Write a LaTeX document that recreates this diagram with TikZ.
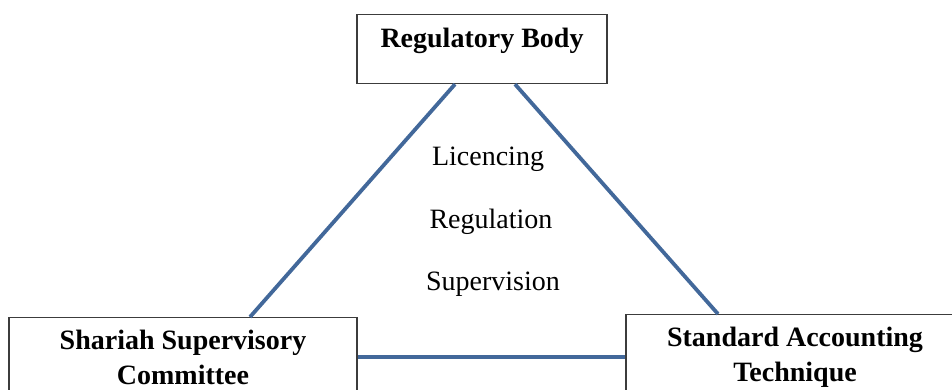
\documentclass[tikz,border=0pt]{standalone}
\usepackage{fontspec}
\setmainfont{Liberation Serif}
\usetikzlibrary{calc}
\definecolor{linkblue}{RGB}{66,104,154}
\definecolor{boxgray}{RGB}{60,60,60}
\tikzset{
	entity/.style={draw=boxgray, line width=1.2pt, anchor=north, align=center,
		inner xsep=0pt, inner ysep=12pt, font=\fontsize{28}{35}\selectfont\bfseries},
	role/.style={anchor=base, font=\fontsize{28}{34}\selectfont},
	link/.style={linkblue, line width=3.8pt}
}

\begin{document}
\begin{tikzpicture}[x=1pt, y=-1pt]
	\useasboundingbox (0,0) rectangle (952,390);
	\node[entity, minimum width=250pt, text height=21pt, text depth=24pt] (reg) at (482,14) {Regulatory Body};
	\node[entity, minimum width=348pt] (sha) at (183,317) {Shariah Supervisory\\Committee};
	\node[entity, minimum width=338pt] (sat) at (795,314) {Standard Accounting\\Technique};
	\draw[link] ($(reg.south)+(-27,0)$) -- ($(sha.north)+(67,0)$);
	\draw[link] ($(reg.south)+(33,0)$) -- ($(sat.north)+(-77,0)$);
	\draw[link] ($(sha.north east)+(0,40)$) -- ($(sat.north west)+(0,43)$);
	\node[role] (lic) at (488,166) {Licencing};
	\node[role] (regu) at (491,228) {Regulation};
	\node[role] (sup) at (493,290) {Supervision};
\end{tikzpicture}
\end{document}
